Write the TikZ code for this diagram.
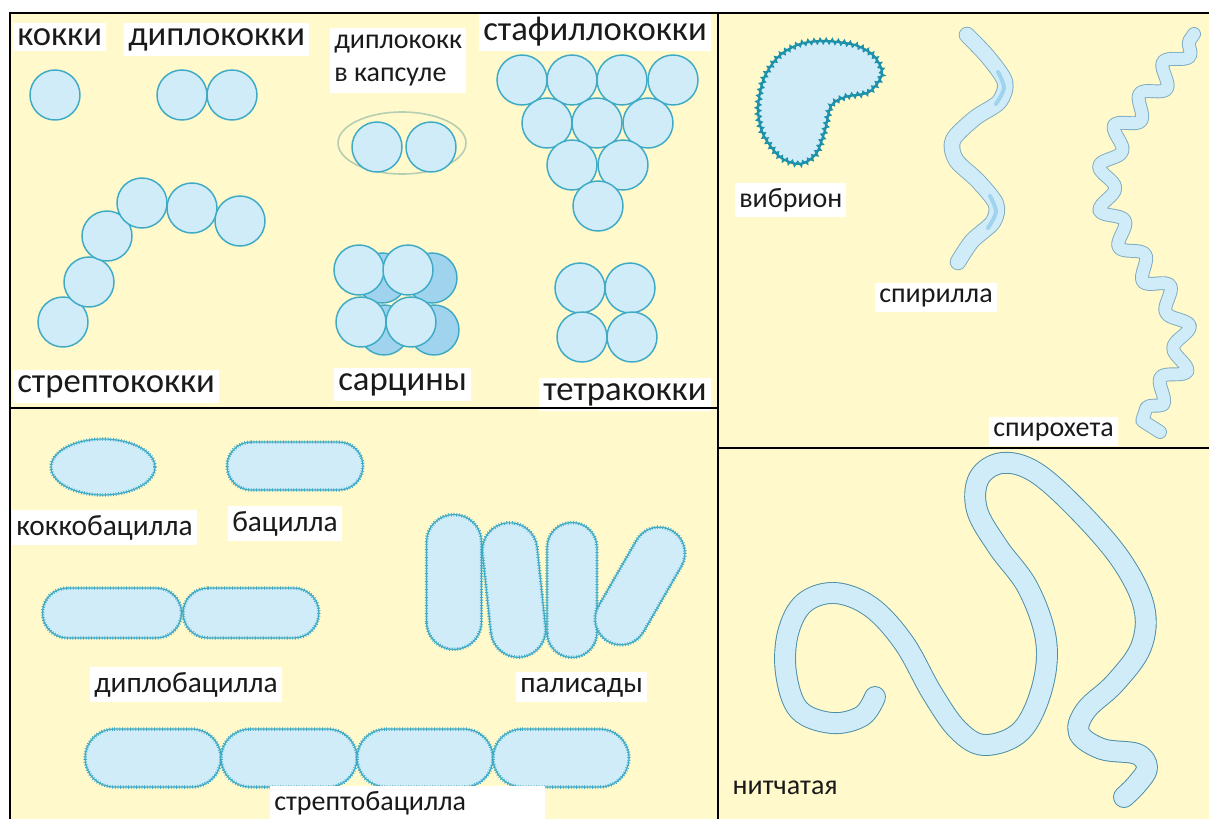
\documentclass[tikz,border=0pt]{standalone}
\usepackage{fontspec}
\setmainfont{Carlito}
\usetikzlibrary{decorations.pathmorphing}
\definecolor{paper}{RGB}{255,249,203}
\definecolor{cellblue}{RGB}{208,236,249}
\definecolor{celldeep}{RGB}{160,212,238}
\definecolor{cellrim}{RGB}{62,170,198}
\definecolor{vibriorim}{RGB}{30,145,170}
\definecolor{capsrim}{RGB}{182,206,178}
\definecolor{tuberim}{RGB}{125,172,192}
\definecolor{fibrerim}{RGB}{72,140,166}
\definecolor{ink}{RGB}{26,26,26}
% one round cell, #1 centre, #2 fill
\newcommand{\drawcoccus}[2]{
  \draw[coccus,fill=#2] #1 circle (25);
}
% one rod: #1 centre, #2 length, #3 thickness, #4 angle
\newcommand{\drawrod}[4]{
  \begin{scope}[shift={#1},rotate=#4]
  \pgfmathsetmacro\rodr{#3/2}
  \pgfmathsetmacro\rodx{#2/2-#3/2}
  \draw[rod] (-\rodx,-\rodr) -- (\rodx,-\rodr) arc(-90:90:\rodr) -- (-\rodx,\rodr) arc(90:270:\rodr) -- cycle;
  \end{scope}
}

\begin{document}
\begin{tikzpicture}[x=0.75pt,y=-0.75pt,
    frame/.style={line width=2.2pt,black},
    coccus/.style={draw=cellrim,line width=1.1pt},
    rod/.style={fill=cellblue,draw=cellrim,line width=0.9pt,
      postaction={draw=cellrim,line width=2.6pt,dash pattern=on 0.6pt off 1.4pt}},
    tube/.style={draw=#1,line width=0.7pt,double=cellblue,line cap=round,line join=round},
    namebox/.style={fill=white,inner xsep=3pt,inner ysep=4pt,anchor=base west,text=ink,
      font=\fontsize{21}{25}\selectfont},
    rodname/.style={namebox,font=\fontsize{22}{26}\selectfont},
    bigname/.style={namebox,font=\fontsize{26}{30}\selectfont}]
  \useasboundingbox (0,0) rectangle (1209,819);
  \fill[white] (0,0) rectangle (1209,819);
  \fill[paper] (10,13) rectangle (1209,819);

  %% cocci
  \drawcoccus{(55,95)}{cellblue}
  \drawcoccus{(182,95)}{cellblue}
  \drawcoccus{(232,95)}{cellblue}
  \draw[draw=capsrim,line width=1.2pt] (402,143) ellipse (64 and 31);
  \drawcoccus{(377,147)}{cellblue}
  \drawcoccus{(431,147)}{cellblue}
  \foreach \x in {522,572,622,673} {\drawcoccus{(\x,80)}{cellblue}}
  \foreach \x in {547,597,648} {\drawcoccus{(\x,123)}{cellblue}}
  \foreach \x in {572,623} {\drawcoccus{(\x,165)}{cellblue}}
  \drawcoccus{(598,206)}{cellblue}
  \foreach \p in {(63,322),(89,282),(107,236),(142,203),(192,208),(240,221)}
    {\drawcoccus{\p}{cellblue}}
  \foreach \p in {(382,278),(432,278),(384,330),(434,330)}
    {\drawcoccus{\p}{celldeep}}
  \foreach \p in {(359,270),(408,270),(361,322),(411,322)}
    {\drawcoccus{\p}{cellblue}}
  \foreach \p in {(580,288),(630,288),(582,337),(632,337)}
    {\drawcoccus{\p}{cellblue}}

  \node[bigname] (cocci) at (13,45) {кокки};
  \node[bigname] (diplococci) at (124,45) {диплококки};
  \node[namebox,anchor=north west,align=left,font=\fontsize{21}{25}\selectfont,inner ysep=5pt]
    (capsule) at (330,28) {диплококк\\в капсуле};
  \node[bigname] (staphylo) at (479,40) {стафиллококки};
  \node[bigname] (strepto) at (13,392) {стрептококки};
  \node[bigname] (sarcina) at (334,390) {сарцины};
  \node[bigname] (tetrad) at (539,400) {тетракокки};

  %% spiral forms
  \draw[fill=cellblue,draw=vibriorim,line width=1.6pt,
    postaction={draw=vibriorim,line width=1pt,decorate,
      decoration={zigzag,segment length=4.5pt,amplitude=2pt}}]
    plot[smooth cycle] coordinates {(825,41) (855,45) (874,56) (882,74) (869,92) (845,97)
      (831,106) (825,130) (816,154) (800,164) (780,157) (763,134) (758,108) (764,78)
      (779,56) (800,44)};
  \draw[tube=tuberim,double distance=11pt]
    plot[smooth] coordinates {(967,35) (988,57) (1005,82) (999,102) (975,118) (953,140)
      (956,160) (978,181) (996,204) (993,222) (972,241) (958,262)};
  \draw[celldeep,line width=3pt,line cap=round]
    plot[smooth] coordinates {(998,72) (1004,88) (996,104)};
  \draw[celldeep,line width=3pt,line cap=round]
    plot[smooth] coordinates {(990,196) (996,212) (988,228)};
  \draw[tube=tuberim,double distance=9pt,decorate,
    decoration={snake,segment length=30pt,amplitude=7pt,pre length=6pt,post length=16pt}]
    plot[smooth] coordinates {(1194,34) (1160,82) (1122,132) (1112,190) (1140,246)
      (1180,300) (1186,350) (1152,400) (1142,420) (1160,432)};

  \node[namebox] (vibrio) at (735,207) {вибрион};
  \node[namebox] (spirillum) at (875,302) {спирилла};
  \node[namebox] (spirochete) at (989,436) {спирохета};

  %% filament
  \draw[tube=fibrerim,double distance=15pt]
    plot[smooth,tension=0.6] coordinates {(875,697) (862,716) (832,723) (799,710) (786,673)
      (788,633) (804,603) (835,593) (871,607) (904,643) (932,693) (958,730) (985,745)
      (1021,731) (1042,688) (1046,640) (1028,588) (998,547) (977,510) (979,478)
      (1002,463) (1035,472) (1078,510) (1121,560) (1144,607) (1141,647) (1115,683)
      (1086,710) (1079,733) (1102,749) (1137,754) (1147,768) (1137,784) (1124,797)};
  \node[anchor=base west,text=ink,font=\fontsize{21}{25}\selectfont] (filament) at (728,794) {нитчатая};

  %% rods
  \draw[rod] (103,467) ellipse (52 and 28);
  \drawrod{(295,466)}{136}{48}{0}
  \drawrod{(112,613)}{139}{50}{0}
  \drawrod{(251,613)}{136}{50}{0}
  \drawrod{(454,582)}{135}{55}{90}
  \drawrod{(514,590)}{135}{55}{96}
  \drawrod{(572,590)}{135}{50}{90}
  \drawrod{(640,586)}{128}{52}{60}
  \foreach \x in {153,289,425,561} {\drawrod{(\x,758)}{136}{58}{0}}

  \node[rodname] (coccobacillus) at (12,535) {коккобацилла};
  \node[rodname] (bacillus) at (228,531) {бацилла};
  \node[rodname] (diplobacillus) at (90,692) {диплобацилла};
  \node[rodname] (palisade) at (516,692) {палисады};
  \node[namebox,text width=200pt] (streptobacillus) at (270,810) {стрептобацилла};

  %% panel borders
  \draw[frame] (10,819) -- (10,13) -- (1209,13);
  \draw[frame] (718,13) -- (718,819);
  \draw[frame] (10,408) -- (718,408);
  \draw[frame] (718,448) -- (1209,448);
\end{tikzpicture}
\end{document}
